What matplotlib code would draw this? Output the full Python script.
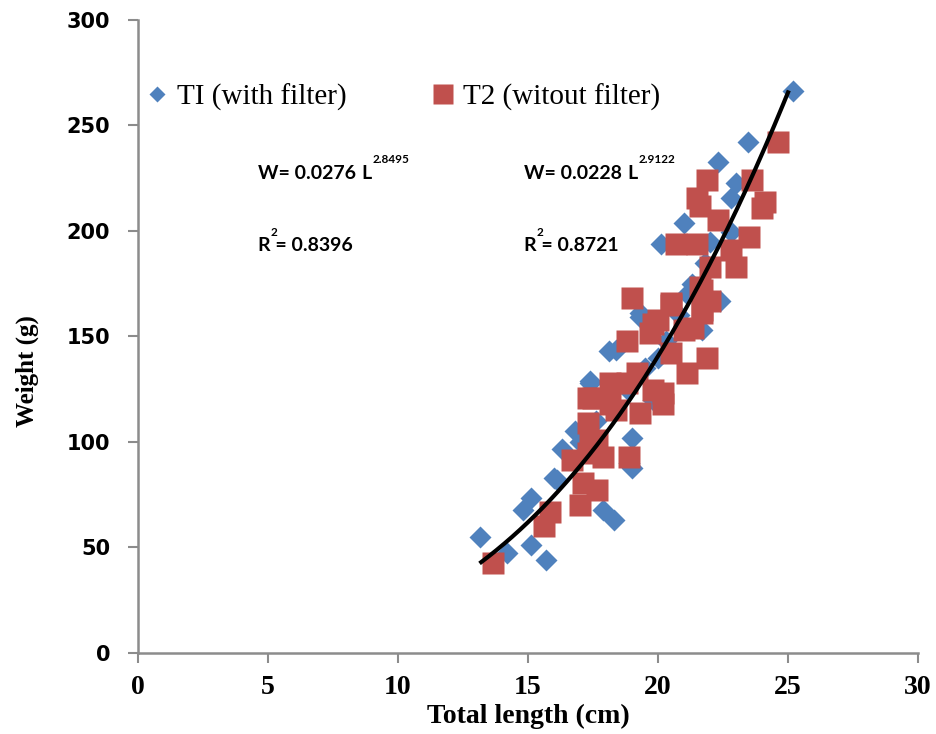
import numpy as np
import matplotlib.pyplot as plt
from matplotlib.lines import Line2D

# T1 (with filter) - blue diamonds
t1_length = [13.15, 14.2, 15.1, 15.7, 14.8, 15.1, 16.1, 16.3, 18.3, 17.9,
             18.9, 16.0, 19.0, 19.0, 17.4, 19.3, 18.4, 21.7, 21.1, 21.0,
             20.1, 22.8, 22.4, 22.3, 23.0, 22.8, 23.46, 25.2, 17.6, 18.2,
             18.8, 19.5, 20.0, 20.3, 20.8, 21.3, 21.8, 22.0, 19.8, 17.0,
             16.8, 18.1, 19.3, 17.4]
t1_weight = [55, 47.4, 51, 44, 67.8, 73.5, 82, 96.7, 63, 67.8,
             90, 83, 87.7, 102, 128, 161, 143.6, 153, 170, 203.8,
             194, 199.5, 167, 232.7, 222.7, 215.6, 242, 266.4, 110, 118,
             125, 135, 140, 148, 160, 175, 185, 195, 120, 100,
             105, 143, 159, 129]

# T2 (witout filter) - red squares
t2_length = [13.65, 15.6, 15.85, 17.0, 16.7, 17.1, 17.65, 17.3, 17.9, 18.9,
             17.4, 17.3, 17.3, 17.65, 18.4, 19.3, 18.8, 20.2, 19.0, 20.5,
             20.0, 18.8, 19.7, 21.0, 21.7, 21.7, 19.2, 20.5, 19.8, 17.5,
             18.15, 21.1, 21.9, 20.2, 21.6, 24.0, 22.3, 23.5, 20.7, 21.5,
             22.8, 22.0, 23.0, 21.6, 20.5, 22.0, 21.7, 19.8, 21.35, 24.6,
             21.9, 21.5, 23.6, 24.1, 18.15]
t2_weight = [42.7, 60, 67, 70, 91.5, 80.6, 77, 95, 93, 93,
             100, 121, 109, 101, 115, 113.7, 128, 123, 168, 165,
             158, 148, 151.7, 153, 161, 172, 132.7, 142, 124.6, 121,
             128, 132.7, 140, 118, 212, 211, 205, 197, 194, 194,
             191, 183, 183, 173.5, 166, 167, 162.6, 156, 154, 242,
             224, 215.6, 224, 213.7, 118]

# fitted power curve W = a * L^b
fit_a, fit_b = 0.0276, 2.8495
fit_range = (13.2, 25.0)

# equation labels: (a, b, R^2)
equations = [('0.0276', '2.8495', '0.8396'),
             ('0.0228', '2.9122', '0.8721')]

blue = '#4F81BD'
red = '#C0504D'
serif = 'Liberation Serif'

fig = plt.figure(figsize=(9.36, 7.34), dpi=100)
ax = fig.add_axes([0.1474, 0.1104, 0.8334, 0.8624])

ax.plot(t1_length, t1_weight, linestyle='none', marker='D', ms=11.5,
        color=blue, mec='none', zorder=2)
ax.plot(t2_length, t2_weight, linestyle='none', marker='s', ms=16,
        color=red, mec='none', zorder=3)

L = np.linspace(fit_range[0], fit_range[1], 200)
ax.plot(L, fit_a * L ** fit_b, color='black', lw=3, zorder=4)

ax.set_xlim(0, 30)
ax.set_ylim(0, 300)
ax.set_xticks(range(0, 31, 5))
ax.set_yticks(range(0, 301, 50))

for s in ['top', 'right']:
    ax.spines[s].set_visible(False)
for s in ['left', 'bottom']:
    ax.spines[s].set_color('#8c8c8c')
    ax.spines[s].set_linewidth(1.8)
ax.tick_params(axis='both', direction='out', length=7, width=1.5, color='#8c8c8c')
ax.tick_params(axis='y', pad=13)
ax.tick_params(axis='x', pad=9)
for t in ax.get_yticklabels():
    t.set_fontfamily('DejaVu Sans')
    t.set_fontweight('bold')
    t.set_fontsize(15)
for t in ax.get_xticklabels():
    t.set_fontfamily(serif)
    t.set_fontweight('bold')
    t.set_fontsize(20)

ax.set_xlabel('Total length (cm)', fontfamily=serif, fontweight='bold', fontsize=20)
ax.set_ylabel('Weight (g)', fontfamily=serif, fontweight='bold', fontsize=18)
ax.xaxis.label.set_va('center')
ax.xaxis.set_label_coords(0.5, -0.101)
ax.yaxis.set_label_coords(-0.127, 0.445)

# equations
eq_font = dict(fontfamily='Lato', fontweight='bold', fontsize=14,
               transform=ax.transAxes, va='center')
sup_font = dict(fontfamily='Lato', fontweight='bold', fontsize=8.5,
                transform=ax.transAxes, va='center')
for x0, (a, b, r2) in zip([0.1538, 0.4949], equations):
    ax.text(x0, 0.758, f'W= {a}', **eq_font)
    ax.text(x0 + 0.132, 0.758, 'L', **eq_font)
    ax.text(x0 + 0.147, 0.780, b, **sup_font)
    ax.text(x0, 0.643, f'R = {r2}', **eq_font)
    ax.text(x0 + 0.0165, 0.665, '2', **sup_font)

handles = [Line2D([], [], linestyle='none', marker='D', ms=8, color=blue, mec='none'),
           Line2D([], [], linestyle='none', marker='s', ms=15, color=red, mec='none')]
ax.legend(handles, ['TI (with filter)', 'T2 (witout filter)'], ncol=2,
          loc='center left', bbox_to_anchor=(0.009, 0.878), frameon=False,
          prop={'family': serif, 'size': 21}, handlelength=0.8,
          handletextpad=0.3, columnspacing=2.9, borderpad=0, borderaxespad=0)

fig.savefig('out.png', dpi=100)
